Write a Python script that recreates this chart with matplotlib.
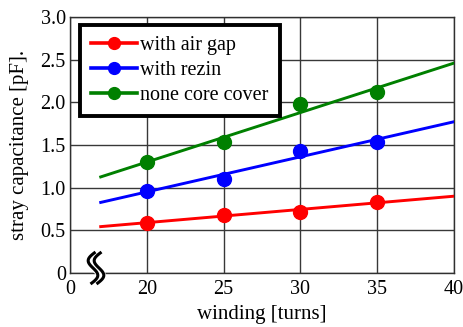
import numpy as np
import matplotlib
matplotlib.use("Agg")
import matplotlib.pyplot as plt
from matplotlib.transforms import IdentityTransform

plt.rcParams['font.family'] = ['Liberation Serif', 'DejaVu Serif']

turns = [20, 25, 30, 35]
air_gap = [0.59, 0.68, 0.72, 0.835]
rezin = [0.965, 1.10, 1.43, 1.54]
none_cover = [1.30, 1.54, 1.98, 2.12]
series_names = ["with air gap", "with rezin", "none core cover"]
colors = ["#ff0000", "#0000ff", "#008000"]
fit_range = [17, 40]
xticks = [15, 20, 25, 30, 35, 40]
xticklabels = ["0", "20", "25", "30", "35", "40"]
yticks = [0, 0.5, 1.0, 1.5, 2.0, 2.5, 3.0]
yticklabels = ["0", "0.5", "1.0", "1.5", "2.0", "2.5", "3.0"]

W, H = 464, 327
fig = plt.figure(figsize=(W / 100, H / 100), dpi=100)
ax = fig.add_axes([70 / W, 1 - 273 / H, (454 - 70) / W, (273 - 17) / H])

for name, vals, c in zip(series_names, [air_gap, rezin, none_cover], colors):
    k, b = np.polyfit(turns, vals, 1)
    xf = np.array(fit_range, dtype=float)
    ax.plot(xf, k * xf + b, color=c, lw=2.1, zorder=3)
    ax.plot(turns, vals, 'o', color=c, ms=10, zorder=4)
    ax.plot([], [], '-o', color=c, lw=2.6, ms=8.5, label=name)

ax.set_xlim(15, 40)
ax.set_ylim(0, 3.0)
ax.set_xticks(xticks)
ax.set_xticklabels(xticklabels)
ax.set_yticks(yticks)
ax.set_yticklabels(yticklabels)
ax.grid(True, color="#383838", lw=1.0)
ax.set_axisbelow(True)
for s in ax.spines.values():
    s.set_color("#303030")
    s.set_linewidth(1.0)
ax.tick_params(axis='both', length=0, labelsize=14.5, colors='black')
ax.tick_params(axis='y', pad=3)
ax.tick_params(axis='x', pad=5)
ax.set_xlabel("winding [turns]", fontsize=15, labelpad=4)
ax.set_ylabel("stray capacitance [pF].", fontsize=15, labelpad=8)

leg = ax.legend(loc='upper left', bbox_to_anchor=(0.026, 0.97), fontsize=14.5,
                frameon=True, fancybox=False, handlelength=2.3, handletextpad=0.15,
                borderpad=0.55, labelspacing=0.3, borderaxespad=0)
leg.get_frame().set_edgecolor('black')
leg.get_frame().set_linewidth(2.8)
leg.get_frame().set_alpha(1)

# axis break symbol
t = np.linspace(0, 1, 80)
yc = H - 268
xc = 96
yy = yc + 16 - 32 * t
xx = xc - 6 * np.sin(2 * np.pi * t) + 5 * (0.5 - t)
tr = IdentityTransform()
fig.add_artist(plt.Line2D(xx, yy, color='white', lw=7, transform=tr, zorder=10))
for off in (-3, 3):
    fig.add_artist(plt.Line2D(xx + off, yy, color='black', lw=2.2, transform=tr,
                              zorder=11, solid_capstyle='butt'))

fig.savefig("out.png", dpi=100)
